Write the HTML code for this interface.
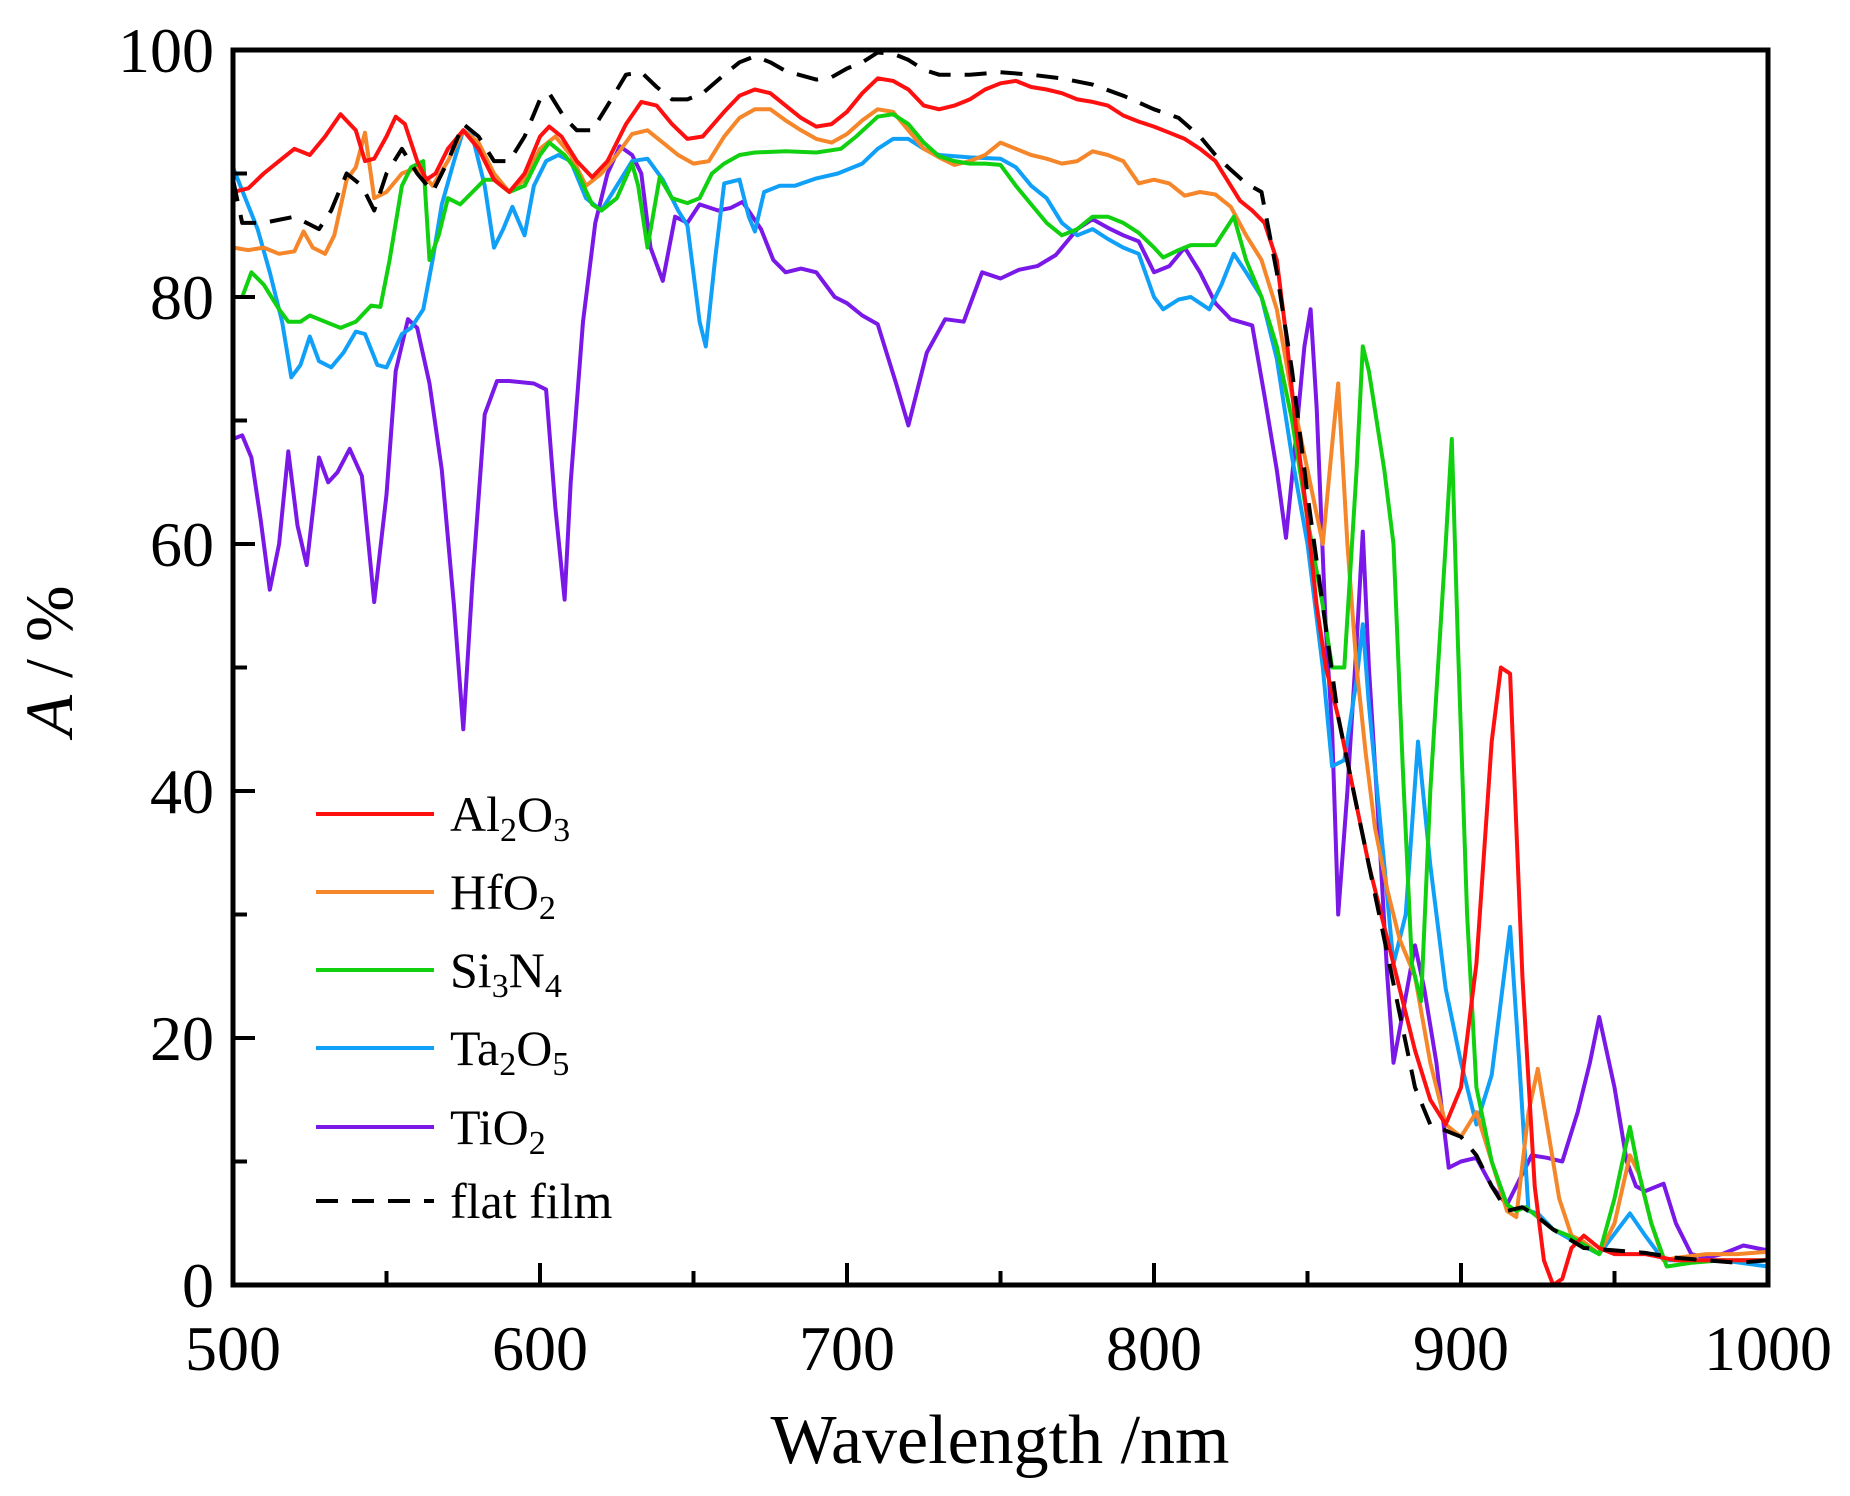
<!DOCTYPE html>
<html><head><meta charset="utf-8"><style>
html,body{margin:0;padding:0;background:#fff}
svg{display:block;font-family:"Liberation Serif",serif}
</style></head><body>
<svg id="chart" width="1850" height="1496" viewBox="0 0 1850 1496" xmlns="http://www.w3.org/2000/svg">
<g id="plot"></g>
<g id="axes"></g>
<g id="legend"></g>
<text x="1000" y="1463" font-size="70" text-anchor="middle">Wavelength /nm</text>
<text transform="translate(72,661) rotate(-90)" font-size="68" text-anchor="middle"><tspan font-style="italic">A</tspan> / %</text>
</svg>
<script>
const xTicks=[500,600,700,800,900,1000];
const yTicks=[0,20,40,60,80,100];
const seriesNames=["Al2O3","HfO2","Si3N4","Ta2O5","TiO2","flat film"];
const al2o3=[[500,88.5],[505,88.8],[510,90],[515,91],[520,92],[525,91.5],[530,93],[535,94.8],[540,93.5],[543,91],[546,91.2],[550,93],[553,94.6],[556,94],[560,91],[563,89.5],[566,90],[570,92],[575,93.5],[580,92],[585,89.5],[590,88.5],[595,90],[600,93],[603,93.8],[607,93],[612,91],[617,89.7],[622,91],[628,94],[633,95.8],[638,95.5],[643,94],[648,92.8],[653,93],[660,95],[665,96.3],[670,96.8],[675,96.5],[680,95.5],[685,94.5],[690,93.8],[695,94],[700,95],[705,96.5],[710,97.7],[715,97.5],[720,96.8],[725,95.5],[730,95.2],[735,95.5],[740,96],[745,96.8],[750,97.3],[755,97.5],[760,97],[765,96.8],[770,96.5],[775,96],[780,95.8],[785,95.5],[790,94.7],[795,94.2],[800,93.8],[805,93.3],[810,92.8],[815,92],[820,91],[825,89],[828,87.8],[832,87],[836,86],[840,83],[843,77],[846,70],[850,62],[853,55],[856,50],[860,46],[865,40],[870,34],[875,29],[880,24],[885,19],[890,15],[895,13],[900,16],[905,26],[910,44],[913,50],[916,49.5],[920,25],[924,8],[927,2],[930,0],[933,0.5],[936,3],[940,4],[945,3],[950,2.5],[960,2.5],[970,2],[980,2],[990,2],[1000,2]];
const hfo2=[[500,84],[505,83.8],[510,84],[515,83.5],[520,83.7],[523,85.3],[526,84],[530,83.5],[533,85],[537,89.5],[540,90.5],[543,93.3],[546,88],[550,88.5],[555,90],[560,90.5],[565,89],[570,91],[575,93.5],[580,92.5],[585,90],[590,88.5],[595,89.5],[600,92],[605,93],[610,91.5],[615,89],[620,90],[625,91.5],[630,93.2],[635,93.5],[640,92.5],[645,91.5],[650,90.8],[655,91],[660,93],[665,94.5],[670,95.2],[675,95.2],[680,94.3],[685,93.5],[690,92.8],[695,92.5],[700,93.2],[705,94.3],[710,95.2],[715,95],[720,93.5],[725,92],[730,91.3],[735,90.7],[740,91],[745,91.5],[750,92.5],[755,92],[760,91.5],[765,91.2],[770,90.8],[775,91],[780,91.8],[785,91.5],[790,91],[795,89.2],[800,89.5],[805,89.2],[810,88.2],[815,88.5],[820,88.3],[825,87.3],[830,85],[835,83],[840,79],[845,72],[850,66],[855,60],[858,68],[860,73],[863,60],[866,50],[869,43],[872,37],[876,32],[880,28],[885,25],[890,18],[895,13],[900,12],[905,14],[910,10],[915,6],[918,5.5],[922,14],[925,17.5],[928,13],[932,7],[936,4],[940,3.5],[945,2.5],[950,5],[955,10.5],[958,9],[962,5],[966,2],[970,2.2],[980,2.5],[990,2.5],[1000,2.7]];
const si3n4=[[500,80],[503,80],[506,82],[510,81],[515,79],[518,78],[522,78],[525,78.5],[530,78],[535,77.5],[540,78],[545,79.3],[548,79.2],[551,83],[555,89],[558,90.5],[562,91],[564,83],[567,85],[570,88],[574,87.5],[578,88.5],[582,89.5],[585,89.5],[590,88.5],[595,89],[600,91.5],[603,92.5],[608,91.5],[612,90.2],[617,87.5],[620,87],[625,88],[630,90.8],[632,89],[635,84],[639,89.7],[643,88],[648,87.6],[652,88],[656,90],[660,90.8],[665,91.5],[670,91.7],[680,91.8],[690,91.7],[698,92],[703,93],[710,94.6],[715,94.8],[720,94],[725,92.5],[730,91.4],[735,91],[740,90.8],[745,90.8],[750,90.7],[755,89],[760,87.5],[765,86],[770,85],[775,85.5],[780,86.5],[785,86.5],[790,86],[795,85.2],[800,84],[803,83.2],[808,83.8],[812,84.2],[820,84.2],[826,86.5],[830,83],[835,80],[840,76],[845,70],[850,62],[855,55],[858,50],[862,50],[866,66],[868,76],[870,74],[875,66],[878,60],[881,42],[884,26],[887,23],[890,40],[895,60],[897,68.5],[899,52],[902,30],[905,16],[910,10],[915,6.5],[918,6],[921,6.3],[925,5.5],[930,4.5],[935,4],[945,2.5],[950,7],[955,12.8],[958,9],[962,5],[967,1.5],[975,1.8],[985,2],[1000,2]];
const ta2o5=[[500,90.5],[504,88],[508,85.5],[512,82],[516,78],[519,73.5],[522,74.5],[525,76.8],[528,74.8],[532,74.3],[536,75.5],[540,77.2],[543,77],[547,74.5],[550,74.3],[555,77],[558,77.5],[562,79],[565,83],[568,87.5],[572,91],[575,93.5],[578,93],[582,89],[585,84],[588,85.5],[591,87.3],[595,85],[598,89],[602,91],[606,91.5],[610,91],[615,88],[620,87],[625,89],[630,91],[635,91.2],[640,89.5],[645,87],[648,85.8],[652,78],[654,76],[657,83],[660,89.2],[665,89.5],[668,86.5],[670,85.3],[673,88.5],[678,89],[683,89],[690,89.6],[697,90],[705,90.8],[710,92],[715,92.8],[720,92.8],[725,92],[730,91.5],[740,91.3],[750,91.2],[755,90.5],[760,89],[765,88],[770,86],[775,85],[780,85.5],[785,84.7],[790,84],[795,83.5],[800,80],[803,79],[808,79.8],[812,80],[818,79],[822,81],[826,83.5],[830,82],[835,80],[840,75],[845,67],[850,60],[855,50],[858,42],[862,42.5],[866,49],[868,53.5],[870,47],[875,34],[878,26],[882,30],[886,44],[890,34],[895,24],[900,18],[905,13],[910,17],[913,23],[916,29],[919,18],[922,6],[925,5.8],[930,4.5],[935,3.8],[945,2.5],[955,5.8],[960,4],[966,2],[975,2],[985,2],[1000,1.5]];
const tio2=[[500,68.5],[503,68.8],[506,67],[509,62],[512,56.3],[515,60],[518,67.5],[521,61.5],[524,58.3],[528,67],[531,65],[534,65.8],[538,67.7],[542,65.5],[546,55.3],[550,64],[553,74],[557,78.2],[560,77.5],[564,73],[568,66],[572,55],[575,45],[578,57],[582,70.5],[586,73.2],[590,73.2],[598,73],[602,72.5],[605,63],[608,55.5],[610,65],[614,78],[618,86],[622,90],[626,92.2],[630,91.5],[633,90],[636,84],[640,81.3],[644,86.5],[648,86],[652,87.5],[658,87],[662,87.2],[666,87.7],[672,85.5],[676,83],[680,82],[685,82.3],[690,82],[696,80],[700,79.5],[705,78.5],[710,77.8],[716,73],[720,69.6],[726,75.5],[732,78.2],[738,78],[744,82],[750,81.5],[756,82.2],[762,82.5],[768,83.4],[775,85.5],[780,86.3],[785,85.6],[790,85],[795,84.5],[800,82],[805,82.5],[810,84],[815,82],[820,79.5],[825,78.2],[832,77.7],[836,72],[840,66],[843,60.5],[846,68],[849,76],[851,79],[853,71],[856,53],[858,45],[860,30],[863,40],[866,52],[868,61],[870,50],[873,38],[876,25],[878,18],[881,22],[885,27.5],[888,24],[892,18],[896,9.5],[900,10],[905,10.3],[910,8],[915,6.5],[920,9],[923,10.5],[928,10.3],[933,10],[938,14],[942,18],[945,21.7],[950,16],[954,10],[957,8],[960,7.6],[966,8.2],[970,5],[975,2.5],[980,2.2],[985,2.5],[992,3.2],[1000,2.8]];
const flat=[[500,89.5],[503,86],[510,86],[520,86.5],[528,85.5],[532,87],[537,90],[542,89],[546,87],[550,90],[555,92],[560,90],[565,88.5],[570,91],[575,94],[580,93],[585,91],[590,91],[595,93],[600,96],[603,96.5],[608,94.5],[612,93.5],[617,93.5],[622,95.5],[628,98],[633,98.2],[638,97],[643,96],[648,96],[653,96.5],[660,98],[665,99],[670,99.5],[675,99],[680,98.3],[690,97.6],[695,97.8],[700,98.5],[705,99],[710,99.8],[715,99.7],[720,99.2],[725,98.4],[730,98],[740,98],[750,98.2],[760,98],[770,97.7],[780,97.2],[790,96.3],[800,95.2],[808,94.5],[815,93],[820,91.5],[825,90.3],[830,89.2],[835,88.5],[840,82],[845,74],[850,64],[855,55],[860,46],[865,40],[870,34],[875,28],[880,22],[885,16],[890,13],[895,12.5],[900,12],[905,10.5],[910,8],[915,6],[920,6.3],[925,5.5],[930,4.5],[940,3],[950,2.8],[960,2.6],[970,2.2],[980,2],[990,1.8],[1000,2]];

const X0=233,X1=1768,Y0=1285,Y1=50;
const NS="http://www.w3.org/2000/svg";
function sx(v){return X0+(v-500)/500*(X1-X0);}
function sy(v){return Y0-(v/100)*(Y0-Y1);}
function mk(t,a,p){const e=document.createElementNS(NS,t);for(const k in a)e.setAttribute(k,a[k]);p.appendChild(e);return e;}
const plot=document.getElementById('plot'),axes=document.getElementById('axes'),legend=document.getElementById('legend');
const defs=mk('defs',{},plot);const cp=mk('clipPath',{id:'cp'},defs);mk('rect',{x:X0,y:Y1,width:X1-X0,height:Y0-Y1},cp);
const series=[al2o3,hfo2,si3n4,ta2o5,tio2,flat];
const colors=["#ff1010","#f5862a","#10d010","#10a0f8","#7a18e8","#000000"];
const ids=["line-al2o3","line-hfo2","line-si3n4","line-ta2o5","line-tio2","line-flat-film"];
const order=[4,3,1,2,0,5];
order.forEach(i=>{
  const d=series[i].map((p,j)=>(j?'L':'M')+sx(p[0]).toFixed(1)+','+sy(p[1]).toFixed(1)).join('');
  const a={d:d,fill:'none',stroke:colors[i],'stroke-width':4,'stroke-linejoin':'round','clip-path':'url(#cp)'};
  if(i===5){a['stroke-dasharray']='22,14';}
  const el=mk('path',a,plot);
  
  
});
const frame=mk('rect',{x:X0,y:Y1,width:X1-X0,height:Y0-Y1,fill:'none',stroke:'#000','stroke-width':5},axes);


for(let v=500;v<=1000;v+=50){
  const len=(v%100===0)?22:14;
  const t=mk('line',{x1:sx(v),x2:sx(v),y1:Y0,y2:Y0-len,stroke:'#000','stroke-width':4},axes);
  
  
}
for(let v=0;v<=100;v+=10){
  const len=(v%20===0)?22:14;
  const t=mk('line',{x1:X0,x2:X0+len,y1:sy(v),y2:sy(v),stroke:'#000','stroke-width':4},axes);
  
  
}
xTicks.forEach(v=>{const t=mk('text',{x:sx(v),y:1370,'font-size':64,'text-anchor':'middle'},axes);t.textContent=v;
  
  });
yTicks.forEach(v=>{const t=mk('text',{x:214,y:sy(v)+22,'font-size':64,'text-anchor':'end'},axes);t.textContent=v;
  
  });
const labels=[["Al","2","O","3"],["HfO","2"],["Si","3","N","4"],["Ta","2","O","5"],["TiO","2"],["flat film"]];
const legY=[814,892,970,1048,1127,1201];
labels.forEach((lb,i)=>{
  const g=mk('g',{},legend);
  
  
  const la={x1:316,x2:434,y1:legY[i],y2:legY[i],stroke:colors[i],'stroke-width':4};
  if(i===5)la['stroke-dasharray']='22,14';
  mk('line',la,g);
  const t=mk('text',{x:450,y:legY[i]+17,'font-size':50},g);
  lb.forEach((s,j)=>{const ts=mk('tspan',{},t);ts.textContent=s;
    if(j%2===1){ts.setAttribute('font-size','34');ts.setAttribute('dy','10');}
    else if(j>0){ts.setAttribute('dy','-10');}
  });
});
</script>
</body></html>
